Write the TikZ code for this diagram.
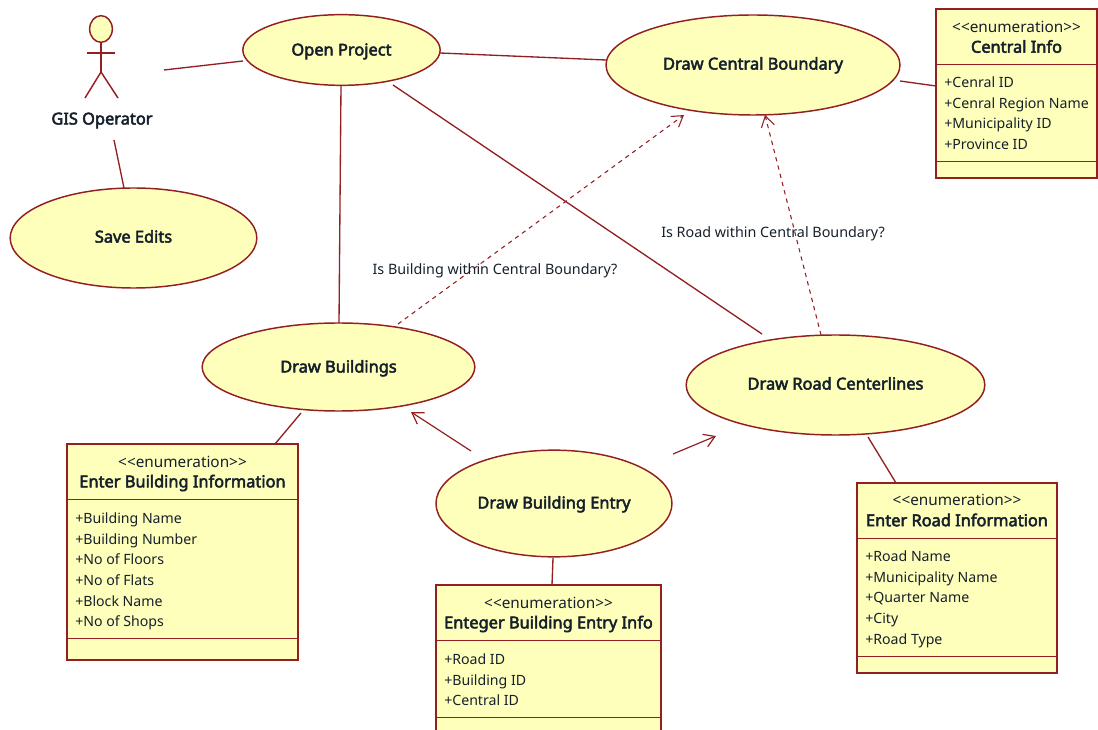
\documentclass[tikz,border=0pt]{standalone}
\usepackage{fontspec}
\setmainfont{Noto Sans}[BoldFont={Noto Sans},BoldFeatures={FakeBold=3}]
\usetikzlibrary{shapes.geometric,arrows.meta}
\definecolor{umlline}{HTML}{931F22}
\definecolor{umlfill}{HTML}{FFFFBC}
\definecolor{umltext}{HTML}{15202B}
\newcommand{\boxrule}[3]{\draw[conn] ([yshift=-#2*0.75pt]#1.north west) -- ([yshift=-#2*0.75pt]#1.north east);}
\newcommand{\uclabel}[2]{\smash{\raisebox{-#1pt}{#2}}}
\tikzset{
  x=0.75pt,y=-0.75pt,
  conn/.style={draw=umlline,line width=1.1pt},
  assoc/.style={conn,line width=1pt},
  dep/.style={conn,line width=0.8pt,dash pattern=on 3.2pt off 3.2pt,-{Straight Barb[length=8pt,width=10pt,line width=0.8pt]}},
  flow/.style={conn,line width=0.9pt,-{Straight Barb[length=8pt,width=10pt,line width=0.9pt]}},
  usecase/.style={ellipse,draw=umlline,fill=umlfill,line width=1.1pt,inner sep=0pt,font=\fontsize{12.3}{14}\selectfont\bfseries,text=umltext},
  classbox/.style={rectangle,draw=umlline,fill=umlfill,line width=1.1pt,inner sep=0pt},
  stereo/.style={font=\fontsize{11.5}{13}\selectfont,text=umltext,inner sep=0pt},
  cname/.style={font=\fontsize{12.3}{14}\selectfont\bfseries,text=umltext,inner sep=0pt},
  attrs/.style={font=\fontsize{10.6}{15.5}\selectfont,text=umltext,inner sep=0pt,align=left,anchor=north west},
  note/.style={font=\fontsize{10.75}{12}\selectfont,text=umltext,inner sep=0pt},
}
\begin{document}
\begin{tikzpicture}
\useasboundingbox (0,0) rectangle (1098,730);
\clip (0,0) rectangle (1098,730);
% use cases
\node[usecase,minimum width=148pt,minimum height=53pt] (open) at (341.5,50) {\uclabel{4.1}{Open Project}};
\node[usecase,minimum width=220.5pt,minimum height=75pt] (central) at (753,65) {\uclabel{3.4}{Draw Central Boundary}};
\node[usecase,minimum width=185pt,minimum height=75pt] (save) at (133.5,238) {\uclabel{3.4}{Save Edits}};
\node[usecase,minimum width=204.5pt,minimum height=66pt] (buildings) at (338.5,367) {\uclabel{4.1}{Draw Buildings}};
\node[usecase,minimum width=224pt,minimum height=75pt] (road) at (835.5,385) {\uclabel{3.4}{Draw Road Centerlines}};
\node[usecase,minimum width=177pt,minimum height=80pt] (entry) at (554,503.5) {\uclabel{3.75}{Draw Building Entry}};
% classes
\node[classbox,minimum width=120.75pt,minimum height=126.75pt] (cinfo) at (1016.5,93.5) {};
\boxrule{cinfo}{56}{}\boxrule{cinfo}{153}{}
\node[stereo] (cinfoS) at (1016.5,26.5) {<{}<enumeration>{}>};
\node[cname] (cinfoN) at (1016.5,46.5) {Central Info};
\node[attrs] (cinfoA) at (944,76.5) {+Cenral ID\\+Cenral Region Name\\+Municipality ID\\+Province ID};
\node[classbox,minimum width=173.25pt,minimum height=162pt] (binfo) at (182.5,552) {};
\boxrule{binfo}{56}{}\boxrule{binfo}{195}{}
\node[stereo] (binfoS) at (182.5,461.5) {<{}<enumeration>{}>};
\node[cname] (binfoN) at (182.5,483) {Enter Building Information};
\node[attrs] (binfoA) at (75,512.5) {+Building Name\\+Building Number\\+No of Floors\\+No of Flats\\+Block Name\\+No of Shops};
\node[classbox,minimum width=168.75pt,minimum height=120pt] (einfo) at (548.5,665) {};
\boxrule{einfo}{56}{}\boxrule{einfo}{133}{}
\node[stereo] (einfoS) at (548.5,602.5) {<{}<enumeration>{}>};
\node[cname] (einfoN) at (548.5,624) {Enteger Building Entry Info};
\node[attrs] (einfoA) at (444,653.5) {+Road ID\\+Building ID\\+Central ID};
\node[classbox,minimum width=150pt,minimum height=142.5pt] (rinfo) at (957,578) {};
\boxrule{rinfo}{56}{}\boxrule{rinfo}{174}{}
\node[stereo] (rinfoS) at (957,499.5) {<{}<enumeration>{}>};
\node[cname] (rinfoN) at (957,520) {Enter Road Information};
\node[attrs] (rinfoA) at (865,550.5) {+Road Name\\+Municipality Name\\+Quarter Name\\+City\\+Road Type};
% actor
\node[ellipse,draw=umlline,fill=umlfill,line width=1.1pt,inner sep=0pt,minimum width=17pt,minimum height=20pt] (head) at (101,29) {};
\coordinate (hip) at (101,72);
\coordinate (armL) at (87,53);
\coordinate (armR) at (115,53);
\coordinate (legL) at (85,98);
\coordinate (legR) at (118,98);
\draw[conn] (head.south) -- (hip);
\draw[conn] (armL) -- (armR);
\draw[conn] (legL) -- (hip) -- (legR);
\node[cname] (actor) at (102,120.5) {GIS Operator};
% free ends
\coordinate (a1) at (164,70);
\coordinate (a2) at (114,140);
\coordinate (b1) at (243,61);
\coordinate (b2) at (124,188);
\coordinate (c1) at (440,53);
\coordinate (c2) at (606,60);
\coordinate (d1) at (341,85);
\coordinate (d2) at (339,323);
\coordinate (e1) at (393,85);
\coordinate (e2) at (762,334);
\coordinate (f1) at (900,81);
\coordinate (f2) at (936,86);
\coordinate (g1) at (398,324);
\coordinate (g2) at (684,115);
\coordinate (h1) at (821,335);
\coordinate (h2) at (765,115);
\coordinate (i1) at (301,413);
\coordinate (i2) at (275,444);
\coordinate (j1) at (471,451);
\coordinate (j2) at (411,412);
\coordinate (k1) at (673,454);
\coordinate (k2) at (716,436);
\coordinate (l1) at (868,437);
\coordinate (l2) at (896,483);
\coordinate (m1) at (553,558);
\coordinate (m2) at (552,585);
\draw[assoc] (a1) -- (b1);
\draw[assoc] (a2) -- (b2);
\draw[assoc] (c1) -- (c2);
\draw[assoc] (d1) -- (d2);
\draw[assoc] (e1) -- (e2);
\draw[dep] (g1) -- (g2);
\draw[dep] (h1) -- (h2);
\draw[assoc] (f1) -- (f2);
\draw[assoc] (i1) -- (i2);
\draw[flow] (j1) -- (j2);
\draw[flow] (k1) -- (k2);
\draw[assoc] (l1) -- (l2);
\draw[assoc] (m1) -- (m2);
\node[note] (nb) at (495,271) {Is Building within Central Boundary?};
\node[note] (nr) at (773,234) {Is Road within Central Boundary?};
\end{tikzpicture}
\end{document}
